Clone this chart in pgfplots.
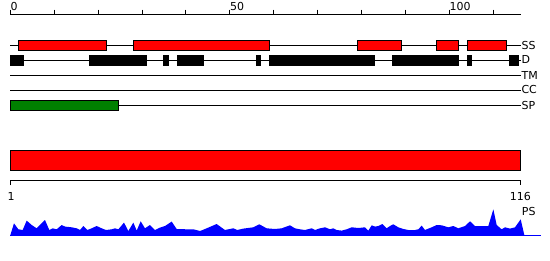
\documentclass[border=0pt]{standalone}
\usepackage{fontspec}
\setmainfont{DejaVu Sans}
\usepackage{pgfplots}
\pgfplotsset{compat=1.18}
\definecolor{ssred}{HTML}{FF0000}
\definecolor{spgreen}{HTML}{008000}
\definecolor{psblue}{HTML}{0000FF}
\begin{document}
\fontsize{11}{13}\selectfont
\begin{tikzpicture}
\begin{axis}[width=550pt,height=260pt,scale only axis,axis lines=none,ticks=none,
  xmin=-2.3462,xmax=122.938,ymin=0,ymax=260,y dir=reverse,clip=false,
  unbounded coords=jump,
  every axis plot/.append style={line width=1pt}]
% top scale
\addplot[black] coordinates {(0,14.3)(116.3,14.3)};
\addplot[black] coordinates {(0,9.7)(0,14.3)(0,nan)(10,9.7)(10,14.3)(10,nan)(20,9.7)(20,14.3)(20,nan)(30,9.7)(30,14.3)(30,nan)(40,9.7)(40,14.3)(40,nan)(50,9.7)(50,14.3)(50,nan)(60,9.7)(60,14.3)(60,nan)(70,9.7)(70,14.3)(70,nan)(80,9.7)(80,14.3)(80,nan)(90,9.7)(90,14.3)(90,nan)(100,9.7)(100,14.3)(100,nan)(110,9.7)(110,14.3)};
\node[anchor=base west,inner sep=0pt] at (axis cs:0,10.5) {0};
\node[anchor=base west,inner sep=0pt] at (axis cs:50,10.5) {50};
\node[anchor=base west,inner sep=0pt] at (axis cs:100,10.5) {100};
% track lines
\addplot[black] coordinates {(0,45)(116.3,45)};
\addplot[black] coordinates {(0,60.3)(116.3,60.3)};
\addplot[black] coordinates {(0,75.7)(116.3,75.7)};
\addplot[black] coordinates {(0,90)(116.3,90)};
\addplot[black] coordinates {(0,105)(116.3,105)};
\node[anchor=west,inner sep=0.5pt] at (axis cs:116.3,45.5) {SS};
\node[anchor=west,inner sep=0.5pt] at (axis cs:116.3,59.8) {D};
\node[anchor=west,inner sep=0.5pt] at (axis cs:116.3,75.7) {TM};
\node[anchor=west,inner sep=0.5pt] at (axis cs:116.3,89.6) {CC};
\node[anchor=west,inner sep=0.5pt] at (axis cs:116.3,105) {SP};
% SS boxes
\addplot[draw=black,fill=ssred] coordinates {(1.9,40.5)(21.9,40.5)(21.9,50.5)(1.9,50.5)} -- cycle;
\addplot[draw=black,fill=ssred] coordinates {(28,40.5)(59,40.5)(59,50.5)(28,50.5)} -- cycle;
\addplot[draw=black,fill=ssred] coordinates {(79,40.5)(89,40.5)(89,50.5)(79,50.5)} -- cycle;
\addplot[draw=black,fill=ssred] coordinates {(97,40.5)(102,40.5)(102,50.5)(97,50.5)} -- cycle;
\addplot[draw=black,fill=ssred] coordinates {(104.1,40.5)(113,40.5)(113,50.5)(104.1,50.5)} -- cycle;
% D boxes
\addplot[draw=black,fill=black] coordinates {(0.1,55.5)(2.9,55.5)(2.9,65.3)(0.1,65.3)} -- cycle;
\addplot[draw=black,fill=black] coordinates {(18.1,55.5)(31,55.5)(31,65.3)(18.1,65.3)} -- cycle;
\addplot[draw=black,fill=black] coordinates {(34.9,55.5)(36,55.5)(36,65.3)(34.9,65.3)} -- cycle;
\addplot[draw=black,fill=black] coordinates {(38.1,55.5)(44,55.5)(44,65.3)(38.1,65.3)} -- cycle;
\addplot[draw=black,fill=black] coordinates {(56.1,55.5)(56.9,55.5)(56.9,65.3)(56.1,65.3)} -- cycle;
\addplot[draw=black,fill=black] coordinates {(59,55.5)(82.9,55.5)(82.9,65.3)(59,65.3)} -- cycle;
\addplot[draw=black,fill=black] coordinates {(87,55.5)(102,55.5)(102,65.3)(87,65.3)} -- cycle;
\addplot[draw=black,fill=black] coordinates {(104.1,55.5)(105,55.5)(105,65.3)(104.1,65.3)} -- cycle;
\addplot[draw=black,fill=black] coordinates {(113.6,55.5)(115.7,55.5)(115.7,65.3)(113.6,65.3)} -- cycle;
% SP box
\addplot[draw=black,fill=spgreen] coordinates {(0,100.3)(24.7,100.3)(24.7,110)(0,110)} -- cycle;
% full-length bar
\addplot[draw=black,fill=ssred] coordinates {(0,150.6)(116.2,150.6)(116.2,170)(0,170)} -- cycle;
% bottom scale
\addplot[black] coordinates {(0.05,185)(0.05,180.3)(116.2,180.3)(116.2,185)};
\node[anchor=base,inner sep=0pt] at (axis cs:0.2,200) {1};
\node[anchor=base,inner sep=0pt] at (axis cs:116.2,200) {116};
\node[anchor=base west,inner sep=0pt] at (axis cs:116.5,215) {PS};
% PS profile
\addplot[draw=none,fill=psblue,line width=0pt] table[x=u,y expr=235.3-\thisrow{h}] {
u h
0.0 0
0.84 12
1.83 6
2.82 5.3
3.73 14.7
4.87 10.3
6.0 7
7.9 15.3
8.89 5.3
9.65 7
10.56 6
11.7 10.3
12.46 8.7
13.98 8
15.12 7
15.88 5.3
16.64 9.3
17.55 5.3
18.53 7
19.67 9.3
20.81 7
21.8 5.3
23.09 6
23.85 7
24.61 6
25.9 12.7
26.89 4.3
28.03 12.7
28.79 4.7
29.7 14
30.68 7
31.82 10.3
32.96 5.3
34.1 7.7
35.24 9.3
36.76 13.7
37.9 6.3
40.17 6
41.7 6
43.22 4.3
44.74 7
47.0 11.3
48.9 5.3
50.8 7
51.7 5.3
53.08 6.7
55.36 8
56.73 11
58.4 7
60.3 6.3
61.81 7
63.71 10
64.85 7
65.99 6
67.13 5.3
68.65 7
69.41 5.3
70.55 7
71.69 8
72.83 6
73.58 7
74.34 5.3
75.48 4.7
76.62 6
77.76 8
79.28 7.3
80.8 8
81.56 4.7
82.32 10
83.08 8.7
83.83 9.3
84.74 11.3
85.73 7
86.49 9.3
87.25 11
88.39 8
89.53 6.3
90.67 5.3
92.19 5.3
92.95 6
93.71 9.7
94.46 5.3
95.98 8
97.12 10.3
98.26 10
99.78 8
100.92 9.3
102.06 7
103.58 9.3
104.72 14
105.85 9.3
107.37 9.3
108.89 9.3
110.03 26
110.79 10.3
111.93 6
112.69 8
113.83 6.7
114.97 8
116.26 16
117.1 0
};
\addplot[psblue] coordinates {(0,235.3)(120.8,235.3)};
\end{axis}
\path (current axis.south west) rectangle (current axis.north east);
\end{tikzpicture}
\end{document}
